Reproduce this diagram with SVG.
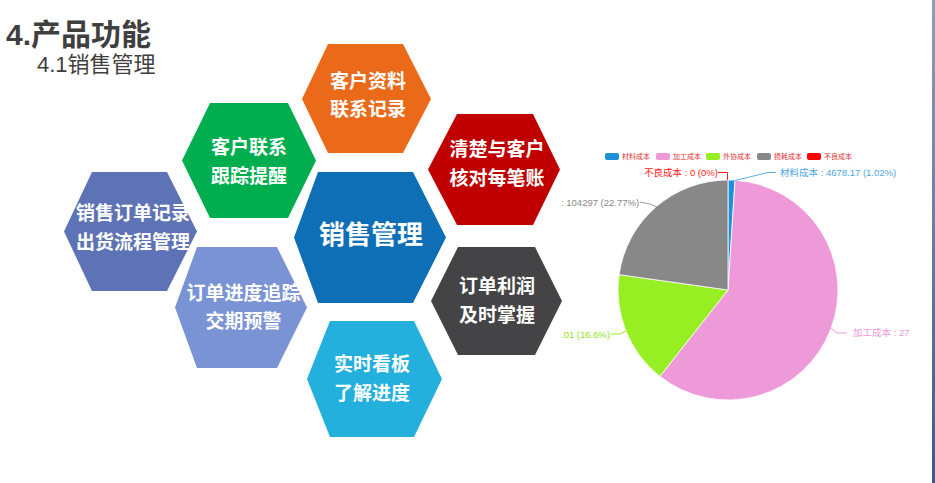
<svg xmlns="http://www.w3.org/2000/svg" width="935" height="483" viewBox="0 0 935 483">
<defs>
<linearGradient id="edge" x1="0" y1="0" x2="0" y2="1">
<stop offset="0" stop-color="#8F9DB8"/>
<stop offset="1" stop-color="#3D5A8A"/>
</linearGradient>
<style>
.title{font-family:"Liberation Sans","Noto Sans CJK SC",sans-serif;fill:#3F3F3F}
.hx{font-family:"Noto Sans CJK SC",sans-serif;font-weight:bold;fill:#FFFFFF;font-size:19px;text-anchor:middle}
.hxc{font-size:26px}
.lbl{font-family:"Liberation Sans","Noto Sans CJK SC",sans-serif;font-size:9.5px}
.lg{font-family:"Noto Sans CJK SC",sans-serif;font-size:7px;fill:#E03030}
.lead{fill:none;stroke-width:1}
.sl{stroke:#FFFFFF;stroke-width:0.8}
</style>
</defs>
<rect width="935" height="483" fill="#FFFFFF"/>
<rect x="932" y="0" width="3" height="483" fill="url(#edge)"/>

<g id="title">
<text class="title" x="6" y="45" font-size="30" font-weight="bold">4.产品功能</text>
<text class="title" x="37" y="72" font-size="22">4.1销售管理</text>
</g>

<g id="hex-orange">
<polygon points="302,99 328,44 403,44 431,99 403,153 328,153" fill="#EB6A1A"/>
<text class="hx" x="368" y="88">客户资料</text>
<text class="hx" x="368" y="116">联系记录</text>
</g>
<g id="hex-green">
<polygon points="182,160.5 210,103 288,103 316,160.5 288,218 210,218" fill="#00AE4F"/>
<text class="hx" x="249" y="154">客户联系</text>
<text class="hx" x="249" y="183">跟踪提醒</text>
</g>
<g id="hex-red">
<polygon points="428,169.5 457,114 533,114 560,169.5 533,225 457,225" fill="#C00000"/>
<text class="hx" x="497" y="156">清楚与客户</text>
<text class="hx" x="497" y="184.5">核对每笔账</text>
</g>
<g id="hex-left">
<polygon points="64,231.5 92,172 167,172 197,231.5 167,291 92,291" fill="#5D73B6"/>
<text class="hx" x="133" y="219.5">销售订单记录</text>
<text class="hx" x="133" y="248.5">出货流程管理</text>
</g>
<g id="hex-center">
<polygon points="294,237.5 318,172 413,172 446,237.5 413,303 318,303" fill="#0E6EB6"/>
<text class="hx hxc" x="371" y="244">销售管理</text>
</g>
<g id="hex-lightpurple">
<polygon points="175,307.5 197,247 277,247 307,307.5 277,368 197,368" fill="#7A93D5"/>
<text class="hx" x="243.5" y="299.5">订单进度追踪</text>
<text class="hx" x="243.5" y="328">交期预警</text>
</g>
<g id="hex-dark">
<polygon points="431,301 458,247 535,247 562,301 535,355 458,355" fill="#444446"/>
<text class="hx" x="497" y="293">订单利润</text>
<text class="hx" x="497" y="322">及时掌握</text>
</g>
<g id="hex-cyan">
<polygon points="307,379 330,321 414,321 442,379 414,437 330,437" fill="#23B0DD"/>
<text class="hx" x="372" y="371">实时看板</text>
<text class="hx" x="372" y="400">了解进度</text>
</g>

<g id="legend">
<rect x="605" y="153" width="14" height="7" rx="2" fill="#1E90DA"/>
<text class="lg" x="622" y="159">材料成本</text>
<rect x="656" y="153" width="14" height="7" rx="2" fill="#EE99D8"/>
<text class="lg" x="673" y="159">加工成本</text>
<rect x="706" y="153" width="14" height="7" rx="2" fill="#97EE22"/>
<text class="lg" x="723" y="159">外协成本</text>
<rect x="757" y="153" width="14" height="7" rx="2" fill="#888888"/>
<text class="lg" x="774" y="159">损耗成本</text>
<rect x="807" y="153" width="14" height="7" rx="2" fill="#FF0000"/>
<text class="lg" x="824" y="159">不良成本</text>
</g>

<g id="pie">
<path class="sl" d="M728,290 L728,180 A110,110 0 0,1 735.04,180.23 Z" fill="#1E90DA"/>
<path class="sl" d="M728,290 L735.04,180.23 A110,110 0 1,1 659.88,376.37 Z" fill="#EE99D8"/>
<path class="sl" d="M728,290 L659.88,376.37 A110,110 0 0,1 619.08,274.63 Z" fill="#97EE22"/>
<path class="sl" d="M728,290 L619.08,274.63 A110,110 0 0,1 728,180 Z" fill="#888888"/>
</g>

<g id="connectors">
<polyline class="lead" points="718,172.5 727.5,172.5 727.5,180" stroke="#FF2020"/>
<polyline class="lead" points="733,181 768,172.5 776,172.5" stroke="#5AB0E6"/>
<polyline class="lead" points="640,202 650,204 657,207" stroke="#999999"/>
<polyline class="lead" points="611,334 620,334 626,331" stroke="#97EE22"/>
<polyline class="lead" points="831,328 837,333 847,333" stroke="#EE99D8"/>
</g>

<g id="pie-labels">
<text class="lbl" x="644" y="176" fill="#FF2020">不良成本 : 0 (0%)</text>
<text class="lbl" x="780" y="176" fill="#4AA8E2">材料成本 : 4678.17 (1.02%)</text>
<text class="lbl" x="561" y="205.5" fill="#888888">: 104297 (22.77%)</text>
<text class="lbl" x="561" y="337.5" fill="#8EE61C">.01 (16.6%)</text>
<text class="lbl" x="853" y="336" fill="#EE99D8">加工成本 : 27</text>
</g>
</svg>
